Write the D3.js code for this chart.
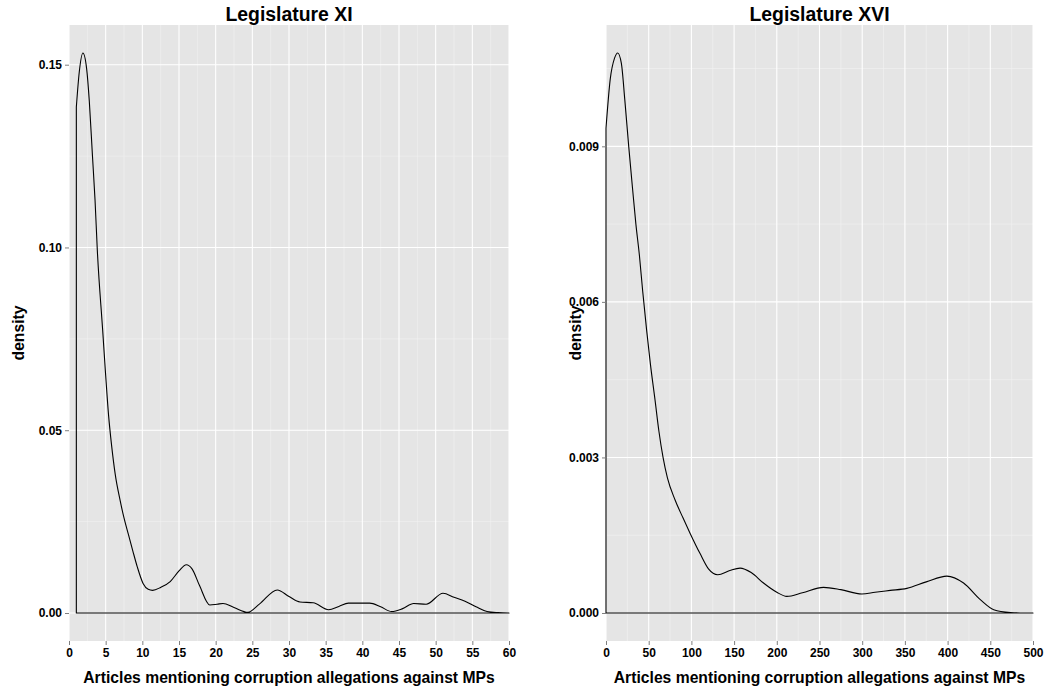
<!DOCTYPE html>
<html>
<head>
<meta charset="utf-8">
<script src="https://cdn.jsdelivr.net/npm/d3@7"></script>
<style>
  html, body { margin: 0; padding: 0; background: #ffffff; }
  svg { display: block; font-family: "Liberation Sans", Arial, Helvetica, sans-serif; }
</style>
</head>
<body>
<svg id="chart" width="1045" height="690"></svg>
<script>
// Kernel density estimates: articles per MP, Legislature XI
const xiArticles = [1, 1.4, 1.9, 2.4, 2.77, 3.2, 3.55, 3.86, 4.59, 5.0, 5.4, 5.8, 6.3, 6.95, 7.5, 8.1, 8.7, 9.3, 10.1, 10.8, 11.4, 12.5, 13.8, 15.0, 16.0, 16.8, 17.8, 19.2, 20.2, 21.0, 22.5, 24.4, 26.0, 28.4, 30.0, 31.5, 33.3, 35.4, 36.8, 38.1, 41.0, 42.5, 44.0, 45.5, 47.0, 48.7, 51.0, 52.5, 54.0, 55.5, 57.0, 58.5, 60];
const xiDensity = [0.1384, 0.148, 0.1532, 0.149, 0.140, 0.125, 0.113, 0.0993, 0.0774, 0.065, 0.054, 0.046, 0.038, 0.031, 0.026, 0.0215, 0.017, 0.0127, 0.0081, 0.0065, 0.0062, 0.0070, 0.0086, 0.0115, 0.0132, 0.0120, 0.0075, 0.0022, 0.0024, 0.0026, 0.0015, 0.0002, 0.0025, 0.0063, 0.0045, 0.0030, 0.0028, 0.0009, 0.0018, 0.0027, 0.0027, 0.0017, 0.0004, 0.0012, 0.0026, 0.0024, 0.0054, 0.0043, 0.0032, 0.0017, 0.0004, 0.0001, 0];

// Kernel density estimates: articles per MP, Legislature XVI
const xviArticles = [0, 5, 10, 13.7, 18, 22, 26.6, 31, 35, 39.1, 43, 47.6, 52, 57.4, 62, 66.8, 72, 80.9, 90, 98.4, 110, 120, 130.9, 145, 157, 170, 184.4, 200, 211.7, 230, 254.7, 275, 299.6, 315, 332.8, 352.3, 375, 399.2, 418.7, 438.3, 454, 473.5, 490, 500];
const xviDensity = [0.00935, 0.0103, 0.0107, 0.0108, 0.0106, 0.0099, 0.0090, 0.0082, 0.0075, 0.0069, 0.0062, 0.00545, 0.0048, 0.00411, 0.0035, 0.0030, 0.0026, 0.00218, 0.00184, 0.00154, 0.00115, 0.00085, 0.000738, 0.00082, 0.000866, 0.00078, 0.000578, 0.00040, 0.00032, 0.00039, 0.000494, 0.00045, 0.000366, 0.00040, 0.000436, 0.000475, 0.0006, 0.000712, 0.000578, 0.000257, 0.000064, 0.00001, 0, 0];

// Axis breaks
const xiXTicks = [0, 5, 10, 15, 20, 25, 30, 35, 40, 45, 50, 55, 60];
const xiYTicks = [0.00, 0.05, 0.10, 0.15];
const xviXTicks = [0, 50, 100, 150, 200, 250, 300, 350, 400, 450, 500];
const xviYTicks = [0.000, 0.003, 0.006, 0.009];

const titles = ["Legislature XI", "Legislature XVI"];
const xTitle = "Articles mentioning corruption allegations against MPs";
const yTitle = "density";

const svg = d3.select("#chart");

const panels = [
  { title: titles[0], xs: xiArticles, ys: xiDensity, xTicks: xiXTicks, yTicks: xiYTicks,
    xDomain: [0, 60], yFmt: d3.format(".2f"),
    left: 69, right: 509, yLabelX: 24 },
  { title: titles[1], xs: xviArticles, ys: xviDensity, xTicks: xviXTicks, yTicks: xviYTicks,
    xDomain: [0, 500], yFmt: d3.format(".3f"),
    left: 606, right: 1033, yLabelX: 581 }
];

const panelTop = 25, panelBottom = 641;

panels.forEach(p => {
  const pts = p.xs.map((x, i) => ({ x, y: p.ys[i] }));
  const yMax = d3.max(p.ys);
  const pad = yMax * 0.05;
  const x = d3.scaleLinear().domain(p.xDomain).range([p.left, p.right]);
  const y = d3.scaleLinear().domain([-pad, yMax + pad]).range([panelBottom, panelTop]);

  const g = svg.append("g");

  // panel background
  g.append("rect")
    .attr("x", p.left).attr("y", panelTop)
    .attr("width", p.right - p.left).attr("height", panelBottom - panelTop)
    .attr("fill", "#e5e5e5");

  // minor grid (midpoints between breaks)
  const xStep = p.xTicks[1] - p.xTicks[0];
  const yStep = p.yTicks[1] - p.yTicks[0];
  const xMinor = p.xTicks.slice(0, -1).map(v => v + xStep / 2);
  const yMinor = p.yTicks.map(v => v + yStep / 2).filter(v => v < yMax + pad);

  g.selectAll(".xminor").data(xMinor).join("line")
    .attr("x1", d => x(d)).attr("x2", d => x(d))
    .attr("y1", panelTop).attr("y2", panelBottom)
    .attr("stroke", "#f2f2f2").attr("stroke-width", 0.6);
  g.selectAll(".yminor").data(yMinor).join("line")
    .attr("x1", p.left).attr("x2", p.right)
    .attr("y1", d => y(d)).attr("y2", d => y(d))
    .attr("stroke", "#f2f2f2").attr("stroke-width", 0.6);

  // major grid
  g.selectAll(".xmajor").data(p.xTicks).join("line")
    .attr("x1", d => x(d)).attr("x2", d => x(d))
    .attr("y1", panelTop).attr("y2", panelBottom)
    .attr("stroke", "#ffffff").attr("stroke-width", 1.1);
  g.selectAll(".ymajor").data(p.yTicks).join("line")
    .attr("x1", p.left).attr("x2", p.right)
    .attr("y1", d => y(d)).attr("y2", d => y(d))
    .attr("stroke", "#ffffff").attr("stroke-width", 1.1);

  // density outline: vertical at start, curve, return along zero baseline
  const line = d3.line().x(d => x(d.x)).y(d => y(d.y)).curve(d3.curveMonotoneX);
  const x0 = pts[0].x, x1 = pts[pts.length - 1].x;
  const curvePath = line(pts);
  const outline = `M${x(x0)},${y(0)}L${x(x0)},${y(pts[0].y)}` + curvePath.replace(/^M/, "L") +
    `L${x(x1)},${y(0)}Z`;
  g.append("path")
    .attr("d", outline)
    .attr("fill", "none")
    .attr("stroke", "#000000")
    .attr("stroke-width", 1.1)
    .attr("stroke-linejoin", "round");

  // axes
  const xAxis = d3.axisBottom(x).tickValues(p.xTicks).tickSize(4).tickPadding(3).tickFormat(d3.format("d"));
  const gx = g.append("g").attr("transform", `translate(0,${panelBottom})`).call(xAxis);
  const yAxis = d3.axisLeft(y).tickValues(p.yTicks).tickSize(4).tickPadding(3).tickFormat(p.yFmt);
  const gy = g.append("g").attr("transform", `translate(${p.left},0)`).call(yAxis);
  [gx, gy].forEach(a => {
    a.select(".domain").remove();
    a.selectAll(".tick line").attr("stroke", "#7f7f7f").attr("stroke-width", 1);
    a.selectAll(".tick text")
      .attr("fill", "#000000")
      .style("font-size", "12px")
      .style("font-weight", "bold")
      .style("font-family", "'Liberation Sans', Arial, sans-serif");
  });

  // titles
  g.append("text")
    .attr("x", (p.left + p.right) / 2).attr("y", 20.5)
    .attr("text-anchor", "middle")
    .style("font-size", "19.4px").style("font-weight", "bold")
    .text(p.title);

  g.append("text")
    .attr("x", (p.left + p.right) / 2).attr("y", 683)
    .attr("text-anchor", "middle")
    .style("font-size", "15.7px").style("font-weight", "bold")
    .text(xTitle);

  g.append("text")
    .attr("transform", `translate(${p.yLabelX},${(panelTop + panelBottom) / 2}) rotate(-90)`)
    .attr("text-anchor", "middle")
    .style("font-size", "15.7px").style("font-weight", "bold")
    .text(yTitle);
});
</script>
</body>
</html>
